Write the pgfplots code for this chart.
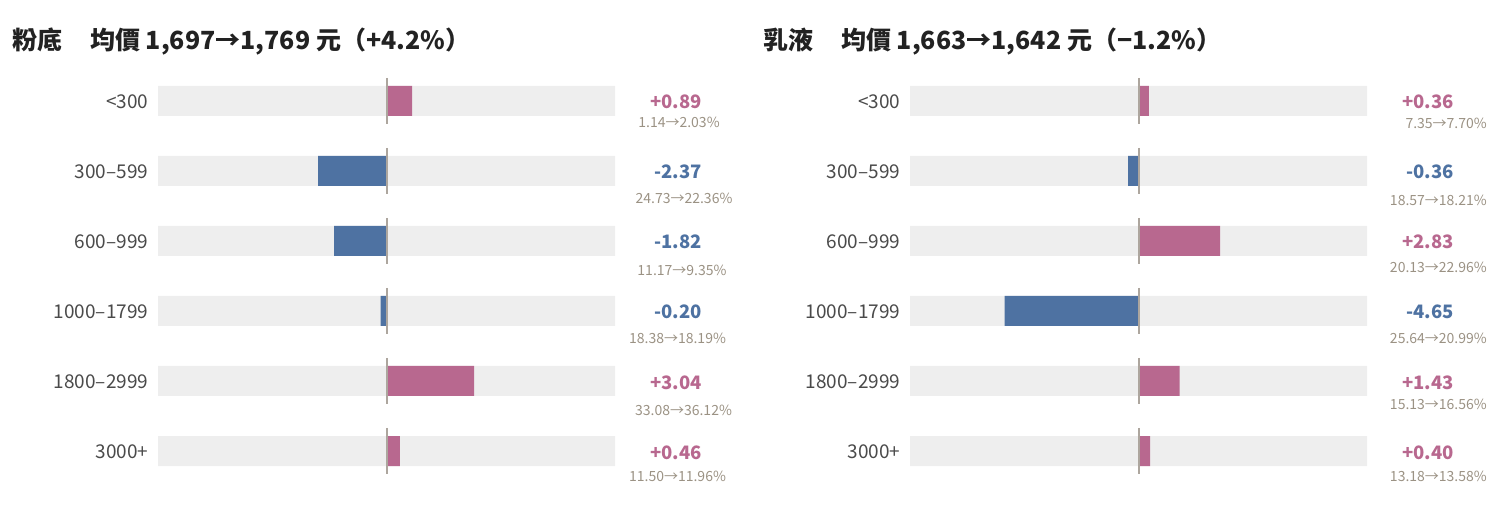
\documentclass[border=0pt]{standalone}
\usepackage{pgfplots}
\pgfplotsset{compat=1.18}
\usepackage{fontspec}
\setmainfont{Noto Sans CJK TC}
\definecolor{pos}{HTML}{B8688F}
\definecolor{neg}{HTML}{4E72A2}
\definecolor{bgc}{HTML}{EEEEEE}
\definecolor{zline}{HTML}{ADA69E}
\definecolor{subc}{HTML}{9B9284}
\definecolor{cat}{HTML}{4A4A4A}
\definecolor{ttl}{HTML}{222222}
\pgfplotsset{
  panel/.style={
    scale only axis, width=457bp, height=420bp,
    xmin=-7.93, xmax=7.93, ymin=-0.5, ymax=5.5, y dir=reverse,
    axis line style={draw=none}, xtick=\empty, ytick={0,...,5},
    yticklabels={<300,300–599,600–999,1000–1799,1800–2999,3000+},
    major tick length=0pt,
    yticklabel style={font=\fontsize{19bp}{23bp}\selectfont, text=cat, anchor=east, inner sep=0pt, xshift=-9.5bp, yshift=-1bp},
    clip=false, unbounded coords=jump,
  },
  b/.style={xbar, bar width=30bp, bar shift=0pt, draw=none, fill=#1},
  zl/.style={zline, line width=2bp, mark=none},
}
\tikzset{
  vl/.style={font=\fontsize{18.5bp}{22bp}\selectfont\bfseries, text=#1, inner sep=0pt},
  sl/.style={font=\fontsize{14bp}{16bp}\selectfont, text=subc, inner sep=0pt},
}
% value label: x (right edge, px), digit centre y (px from top), colour, text
\newcommand{\V}[4]{\node[anchor=base east, vl=#3] at (#1,{501.2-#2}) {#4};}
% change label centred at x
\newcommand{\SL}[3]{\node[anchor=base, sl] at (#1,{502.9-#2}) {#3};}
% change label right-aligned at x
\newcommand{\SR}[3]{\node[anchor=base east, sl] at (#1,{502.9-#2}) {#3};}
\begin{document}
\begin{tikzpicture}[x=1bp,y=1bp]
\path[use as bounding box] (0,0) rectangle (1500,508);
\node[anchor=west, text=ttl, font=\fontsize{25bp}{29bp}\selectfont\bfseries, inner sep=0pt] at (12,466.5) {粉底\hspace{28bp}均價 1,697→1,769 元（+4.2\%）};
\node[anchor=west, text=ttl, font=\fontsize{25bp}{29bp}\selectfont\bfseries, inner sep=0pt] at (763,466.5) {乳液\hspace{28bp}均價 1,663→1,642 元（−1.2\%）};
% left panel
\begin{axis}[panel, at={(158bp,22bp)}, anchor=south west]
\addplot[b=bgc] coordinates {(7.93,0)(7.93,1)(7.93,2)(7.93,3)(7.93,4)(7.93,5)};
\addplot[b=bgc] coordinates {(-7.93,0)(-7.93,1)(-7.93,2)(-7.93,3)(-7.93,4)(-7.93,5)};
\addplot[b=pos] coordinates {(0.89,0)(3.04,4)(0.46,5)};
\addplot[b=neg] coordinates {(-2.37,1)(-1.82,2)(-0.20,3)};
\addplot[zl] coordinates {(0,-0.33)(0,0.33)(0,nan)(0,0.67)(0,1.33)(0,nan)(0,1.67)(0,2.33)(0,nan)(0,2.67)(0,3.33)(0,nan)(0,3.67)(0,4.33)(0,nan)(0,4.67)(0,5.33)};
\end{axis}
% right panel
\begin{axis}[panel, at={(910bp,22bp)}, anchor=south west]
\addplot[b=bgc] coordinates {(7.93,0)(7.93,1)(7.93,2)(7.93,3)(7.93,4)(7.93,5)};
\addplot[b=bgc] coordinates {(-7.93,0)(-7.93,1)(-7.93,2)(-7.93,3)(-7.93,4)(-7.93,5)};
\addplot[b=pos] coordinates {(0.36,0)(2.83,2)(1.43,4)(0.40,5)};
\addplot[b=neg] coordinates {(-0.36,1)(-4.65,3)};
\addplot[zl] coordinates {(0,-0.33)(0,0.33)(0,nan)(0,0.67)(0,1.33)(0,nan)(0,1.67)(0,2.33)(0,nan)(0,2.67)(0,3.33)(0,nan)(0,3.67)(0,4.33)(0,nan)(0,4.67)(0,5.33)};
\end{axis}
% left labels
\V{702}{101.5}{pos}{+0.89}
\V{702}{171.5}{neg}{-2.37}
\V{702}{241.5}{neg}{-1.82}
\V{702}{312}{neg}{-0.20}
\V{702}{382.5}{pos}{+3.04}
\V{702}{452.5}{pos}{+0.46}
\SL{679}{122}{1.14→2.03\%}
\SL{684}{198}{24.73→22.36\%}
\SL{682}{270}{11.17→9.35\%}
\SL{677.5}{338.5}{18.38→18.19\%}
\SL{683.5}{410.5}{33.08→36.12\%}
\SL{677.5}{476}{11.50→11.96\%}
% right labels
\V{1454}{101.5}{pos}{+0.36}
\V{1454}{171.5}{neg}{-0.36}
\V{1454}{241.5}{pos}{+2.83}
\V{1454}{312}{neg}{-4.65}
\V{1454}{382.5}{pos}{+1.43}
\V{1454}{452.5}{pos}{+0.40}
\SR{1487}{123}{7.35→7.70\%}
\SR{1487}{200}{18.57→18.21\%}
\SR{1487}{267.5}{20.13→22.96\%}
\SR{1487}{338.5}{25.64→20.99\%}
\SR{1487}{404}{15.13→16.56\%}
\SR{1487}{476.5}{13.18→13.58\%}
\end{tikzpicture}
\end{document}
